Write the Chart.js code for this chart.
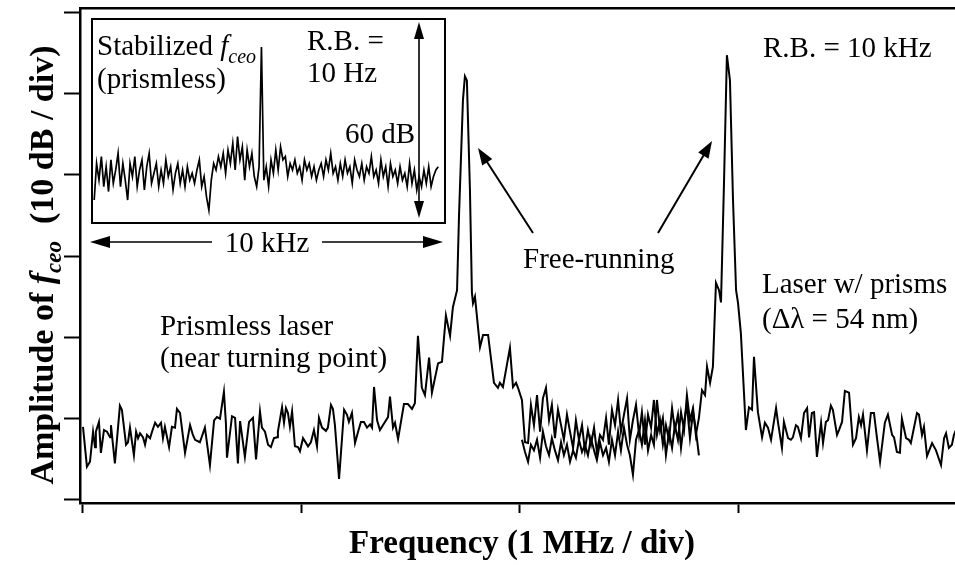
<!DOCTYPE html>
<html>
<head>
<meta charset="utf-8">
<script src="https://cdn.jsdelivr.net/npm/chart.js@4.4.1/dist/chart.umd.min.js"></script>
<style>
  html, body { margin: 0; padding: 0; background: #fff; }
  #wrap { position: relative; width: 955px; height: 565px; }
  #mainChart { display: block; }
  #insetBox { position: absolute; left: 91px; top: 18px; width: 355px; height: 206px; box-sizing: border-box; border: 2px solid #000; }
  #insetChart { display: block; }
</style>
</head>
<body>
<div id="wrap">
  <canvas id="mainChart" width="955" height="565"></canvas>
  <div id="insetBox"><canvas id="insetChart" width="351" height="202"></canvas></div>
</div>
<script>
// Spectrum of f_ceo, 1 MHz / div on x, 10 dB / div on y (bottom tick = 0 dB)

// Prismless laser (near turning point), free-running
const prismlessFreq = [
  0.000,0.018,0.032,0.046,0.055,0.059,0.073,0.082,0.096,0.110,
  0.124,0.128,0.146,0.169,0.178,0.197,0.206,0.215,0.233,0.243,
  0.252,0.261,0.275,0.284,0.293,0.307,0.316,0.330,0.343,0.357,
  0.366,0.375,0.394,0.407,0.421,0.430,0.444,0.467,0.490,0.503,
  0.513,0.535,0.558,0.581,0.600,0.613,0.627,0.645,0.654,0.659,
  0.682,0.696,0.709,0.719,0.741,0.760,0.778,0.792,0.810,0.819,
  0.833,0.847,0.860,0.874,0.888,0.892,0.911,0.920,0.929,0.938,
  0.947,0.957,0.970,0.984,0.993,1.007,1.030,1.043,1.057,1.071,
  1.080,1.094,1.112,1.121,1.135,1.144,1.153,1.172,1.195,1.208,
  1.217,1.231,1.245,1.259,1.272,1.286,1.300,1.314,1.323,1.332,
  1.346,1.359,1.382,1.396,1.405,1.419,1.428,1.442,1.469,1.487,
  1.506,1.519,
  1.533,1.551,1.565,1.584,1.597,1.625,1.643,1.661,1.680,1.693,
  1.712,1.721,1.739,1.748,1.757,1.771,1.780,1.785,1.794,1.817,
  1.831,1.854,1.881,1.899,1.908,1.922,1.936,1.954,1.968,1.982,
  1.991,
  2.009,2.023,2.037,2.050,2.064,2.078,2.092,2.105,2.119,2.133,
  2.146,2.160,2.174,2.188,2.201,2.215,2.229,2.243,2.256,2.270,
  2.284,2.297,2.311,2.325,2.339,2.352,2.366,2.380,2.394,2.407,
  2.421,2.435,2.449,2.462,2.476,2.490,2.503,2.517,2.531,2.545,
  2.558,2.572,2.586,2.600,2.613,2.627,2.641,2.654,2.668,2.682,
  2.696,2.709,2.723,2.737,2.751,2.764,2.778,2.792,2.805,2.819
];
const prismlessLevel = [
  9.0,4.1,4.7,8.4,6.5,8.4,9.6,5.8,8.6,8.4,
  7.7,9.2,4.5,11.6,11.1,6.8,7.1,8.9,5.5,8.4,
  7.6,8.2,7.7,6.8,8.0,7.6,8.4,9.5,9.0,9.5,
  7.6,9.0,6.5,9.0,8.9,11.2,10.7,5.8,9.2,8.0,
  7.4,7.1,8.9,4.3,9.8,10.2,10.0,13.3,9.5,5.2,
  10.3,10.1,4.5,9.7,5.3,9.6,10.1,5.0,10.9,8.9,
  8.4,6.8,6.5,7.6,7.7,8.4,11.4,9.5,11.3,10.7,
  9.0,10.9,6.6,6.5,6.0,7.6,6.6,7.1,8.6,6.6,
  10.1,8.9,8.5,8.9,11.7,11.2,9.2,2.6,11.1,10.5,
  9.6,10.7,7.0,8.4,9.6,9.6,8.9,9.3,8.9,13.9,
  9.8,8.6,9.6,10.2,12.7,8.9,9.5,7.5,11.8,11.8,
  11.2,11.9,
  20.2,13.8,12.9,17.5,13.2,16.8,17.0,22.7,20.2,23.7,
  25.8,35.0,49.2,52.1,51.6,38.1,25.5,24.2,25.0,18.8,
  20.3,20.3,14.4,13.8,14.4,13.9,16.0,18.7,13.9,14.4,
  13.8,
  12.3,7.1,7.0,11.7,9.2,12.9,8.4,12.5,13.8,9.8,
  11.7,7.6,11.1,9.2,7.4,10.5,8.4,6.4,9.8,7.4,
  9.2,6.1,8.6,6.8,8.9,5.9,8.0,7.4,10.1,6.8,
  11.1,9.2,12.3,8.4,10.5,12.5,7.4,9.8,11.7,8.0,
  10.8,6.8,10.5,8.9,12.3,8.0,9.8,6.8,9.2,7.4,
  11.3,8.6,10.5,6.4,9.6,11.7,7.6,10.8,8.6,5.5
];

// Laser w/ prisms (delta lambda = 54 nm), free-running
const prismFreq = [
  2.009,2.023,2.037,2.050,2.064,2.078,2.092,2.105,2.119,2.133,
  2.146,2.160,2.174,2.188,2.201,2.215,2.229,2.243,2.256,2.270,
  2.284,2.297,2.311,2.325,2.339,2.352,2.366,2.380,2.394,2.407,
  2.421,2.435,2.449,2.462,2.476,2.490,2.503,2.517,2.531,2.545,
  2.558,2.572,2.586,2.600,2.613,2.627,2.641,2.654,2.668,2.682,
  2.696,2.709,2.723,2.737,2.751,2.764,2.778,2.792,2.805,2.819,
  2.833,2.847,2.856,2.870,2.883,2.897,2.911,2.920,2.934,2.947,
  2.961,2.975,2.989,2.998,3.011,3.034,3.048,3.062,3.071,3.089,
  3.108,3.121,
  3.135,3.149,3.172,3.181,3.199,3.208,3.227,3.240,3.249,3.263,
  3.272,3.286,3.300,3.314,3.323,3.336,3.346,3.359,3.378,3.387,
  3.400,3.410,3.423,3.432,3.451,3.460,3.474,3.487,3.506,3.524,
  3.538,3.551,3.561,3.570,3.588,3.606,3.620,3.634,3.648,3.670,
  3.684,3.703,3.712,3.725,3.739,3.748,3.767,3.780,3.789,3.817,
  3.826,3.840,3.849,3.863,3.886,3.904,3.927,3.941,3.950,3.963,
  3.977,3.986,3.995
];
const prismLevel = [
  7.4,5.9,4.7,6.8,6.1,7.4,5.2,8.4,6.6,5.5,
  7.6,6.1,4.9,7.1,5.5,6.8,4.7,6.1,5.2,7.4,
  5.9,6.8,5.5,7.6,6.1,4.9,7.1,5.5,6.4,4.7,
  7.4,5.5,8.4,6.1,8.9,6.8,5.5,3.1,7.4,8.6,
  6.8,9.8,6.1,8.0,6.8,12.3,8.6,10.1,5.5,8.4,
  6.4,9.2,7.4,10.8,8.6,12.9,9.8,11.3,8.0,10.1,
  13.5,12.9,16.4,14.4,16.4,26.7,25.8,24.3,39.3,54.7,
  51.6,36.9,25.8,24.2,20.5,8.6,11.4,11.1,17.6,10.8,
  7.7,9.5,
  8.9,7.4,11.3,9.5,6.4,9.6,7.6,7.4,7.7,9.2,
  9.0,7.6,10.7,11.3,7.7,10.7,10.8,5.3,9.5,7.0,
  9.6,9.8,11.6,11.1,8.0,8.6,9.6,13.4,13.2,6.8,
  7.6,10.2,9.2,10.5,6.1,10.7,10.7,7.6,4.7,9.5,
  10.5,8.0,7.7,5.9,5.8,10.0,7.6,7.4,7.0,10.7,
  10.5,8.0,9.0,5.4,7.0,6.1,4.3,7.6,8.2,6.4,
  6.8,8.0,8.6
];

// Inset: stabilized f_ceo (prismless), 10 kHz span, R.B. = 10 Hz, level in dB
const stabilizedLevel = [
  5.5,16.7,11.6,18.8,9.6,15.7,8.1,17.8,10.6,14.7,19.8,9.6,16.7,
  11.6,5.5,16.7,12.7,18.8,9.6,14.7,17.8,8.6,15.7,19.8,10.6,13.7,
  16.7,9.6,14.7,10.6,17.8,12.7,15.7,8.6,13.7,16.7,10.6,14.7,9.6,15.7,11.6,13.7,10.6,
  14.7,17.8,9.6,12.7,6.5,2.4,11.6,16.7,14.7,18.8,
  15.7,19.8,13.7,20.8,16.7,22.9,14.7,24.9,17.8,21.8,11.6,20.8,15.7,19.8,12.7,9.6,15.7,
  52.3,
  11.6,15.7,9.6,17.8,13.7,20.8,14.7,21.8,17.8,18.8,12.7,16.7,14.7,17.8,
  13.7,15.7,11.6,17.8,14.7,16.7,12.7,15.7,11.6,14.7,16.7,12.7,17.8,14.7,19.8,13.7,
  15.7,11.6,16.7,12.7,17.8,13.7,15.7,10.6,17.8,14.7,12.7,16.7,11.6,15.7,13.7,18.8,12.7,
  14.7,10.6,17.8,12.7,15.7,9.6,16.7,12.7,14.7,10.6,15.7,11.6,13.7,9.6,16.7,10.6,14.7,8.6,
  12.7,9.6,14.7,10.6,15.7,9.6,12.7,14.7,15.7
];

const xTicks = [0, 1, 2, 3];
const yTicks = [0, 10, 20, 30, 40, 50, 60];

const serif = '"Liberation Serif", "Times New Roman", Times, serif';

function toPoints(xs, ys) {
  return xs.map((x, i) => ({ x: x, y: ys[i] }));
}

// draw a run of text pieces with different fonts / baseline shifts
function partsWidth(ctx, parts) {
  let w = 0;
  parts.forEach(p => { ctx.font = p.font; w += ctx.measureText(p.text).width; });
  return w;
}
function drawParts(ctx, parts, x, y) {
  parts.forEach(p => {
    ctx.font = p.font;
    ctx.fillText(p.text, x, y + (p.dy || 0));
    x += ctx.measureText(p.text).width;
  });
}

function arrow(ctx, x1, y1, x2, y2, len, half) {
  const a = Math.atan2(y2 - y1, x2 - x1);
  const c = Math.cos(a), s = Math.sin(a);
  ctx.beginPath();
  ctx.moveTo(x1, y1);
  ctx.lineTo(x2 - c * len * 0.7, y2 - s * len * 0.7);
  ctx.stroke();
  ctx.beginPath();
  ctx.moveTo(x2, y2);
  ctx.lineTo(x2 - len * c + half * s, y2 - len * s - half * c);
  ctx.lineTo(x2 - len * c - half * s, y2 - len * s + half * c);
  ctx.closePath();
  ctx.fill();
}

const annotations = {
  id: 'annotations',
  afterDraw(chart) {
    const ctx = chart.ctx;
    ctx.save();
    ctx.fillStyle = '#000';
    ctx.strokeStyle = '#000';
    ctx.textBaseline = 'alphabetic';
    ctx.textAlign = 'left';
    const reg = '29px ' + serif;
    const ita = 'italic 29px ' + serif;
    const sub = 'italic 20px ' + serif;

    // inset labels
    drawParts(ctx, [
      { text: 'Stabilized ', font: reg },
      { text: 'f', font: ita },
      { text: 'ceo', font: sub, dy: 8 }
    ], 97, 55);
    ctx.font = reg;
    ctx.fillText('(prismless)', 97, 88);
    ctx.fillText('R.B. =', 307, 50);
    ctx.fillText('10 Hz', 307, 82);
    ctx.fillText('60 dB', 345, 143);
    ctx.textAlign = 'center';
    ctx.fillText('10 kHz', 267, 252);
    ctx.textAlign = 'left';

    ctx.lineWidth = 1.6;
    arrow(ctx, 419, 120, 419, 22, 17, 5);
    arrow(ctx, 419, 120, 419, 218, 17, 5);
    arrow(ctx, 212, 242, 90, 242, 20, 6);
    arrow(ctx, 322, 242, 443, 242, 20, 6);

    // main labels
    ctx.font = reg;
    ctx.fillText('R.B. = 10 kHz', 763, 57);
    ctx.fillText('Free-running', 523, 268);
    ctx.fillText('Laser w/ prisms', 762, 293);
    ctx.fillText('(\u0394\u03bb = 54 nm)', 762, 328);
    ctx.fillText('Prismless laser', 160, 335);
    ctx.fillText('(near turning point)', 160, 367);

    ctx.lineWidth = 2;
    arrow(ctx, 533, 233, 478, 148, 17, 6);
    arrow(ctx, 658, 233, 712, 141, 17, 6);

    // axis titles
    ctx.font = 'bold 33px ' + serif;
    ctx.textAlign = 'center';
    ctx.fillText('Frequency (1 MHz / div)', 522, 553);
    ctx.textAlign = 'left';

    const bold = 'bold 34px ' + serif;
    const yTitle = [
      { text: 'Amplitude of ', font: bold },
      { text: 'f', font: 'bold italic 34px ' + serif },
      { text: 'ceo', font: 'bold italic 23px ' + serif, dy: 8 },
      { text: '  (10 dB / div)', font: bold }
    ];
    ctx.translate(53, 265);
    ctx.rotate(-Math.PI / 2);
    drawParts(ctx, yTitle, -partsWidth(ctx, yTitle) / 2, 0);
    ctx.restore();
  }
};

const axisColor = '#000';

new Chart(document.getElementById('mainChart'), {
  type: 'line',
  data: {
    datasets: [
      { label: 'Prismless laser', data: toPoints(prismlessFreq, prismlessLevel),
        borderColor: '#000', borderWidth: 2, pointRadius: 0, tension: 0, fill: false },
      { label: 'Laser w/ prisms', data: toPoints(prismFreq, prismLevel),
        borderColor: '#000', borderWidth: 2, pointRadius: 0, tension: 0, fill: false }
    ]
  },
  options: {
    responsive: false,
    animation: false,
    devicePixelRatio: 1,
    layout: { padding: 0 },
    plugins: { legend: { display: false }, tooltip: { enabled: false } },
    scales: {
      x: {
        type: 'linear', position: 'bottom', min: -0.0137, max: 3.991,
        afterBuildTicks: s => { s.ticks = xTicks.map(v => ({ value: v })); },
        afterFit: s => { s.height = 62; },
        ticks: { display: false },
        grid: { drawOnChartArea: false, drawTicks: true, tickLength: 10, tickWidth: 2, color: axisColor },
        border: { display: true, color: axisColor, width: 2.5 }
      },
      xTop: {
        type: 'linear', position: 'top', min: -0.0137, max: 3.991,
        afterFit: s => { s.height = 8; },
        ticks: { display: false },
        grid: { drawOnChartArea: false, drawTicks: false },
        border: { display: true, color: axisColor, width: 2.5 }
      },
      y: {
        type: 'linear', position: 'left', min: -0.37, max: 60.5,
        afterBuildTicks: s => { s.ticks = yTicks.map(v => ({ value: v })); },
        afterFit: s => { s.width = 80; },
        ticks: { display: false },
        grid: { drawOnChartArea: false, drawTicks: true, tickLength: 16, tickWidth: 2, color: axisColor },
        border: { display: true, color: axisColor, width: 2.5 }
      }
    }
  },
  plugins: [annotations]
});

// Inset chart
new Chart(document.getElementById('insetChart'), {
  type: 'line',
  data: {
    datasets: [{
      data: stabilizedLevel.map((v, i) => ({ x: i, y: v })),
      borderColor: '#000', borderWidth: 1.7, pointRadius: 0, tension: 0, fill: false
    }]
  },
  options: {
    responsive: false,
    animation: false,
    devicePixelRatio: 1,
    layout: { padding: 0 },
    plugins: { legend: { display: false }, tooltip: { enabled: false } },
    scales: {
      x: { type: 'linear', display: false, min: -0.5, max: 146.4 },
      y: { type: 'linear', display: false, min: -1.22, max: 60.6 }
    }
  }
});
</script>
</body>
</html>
